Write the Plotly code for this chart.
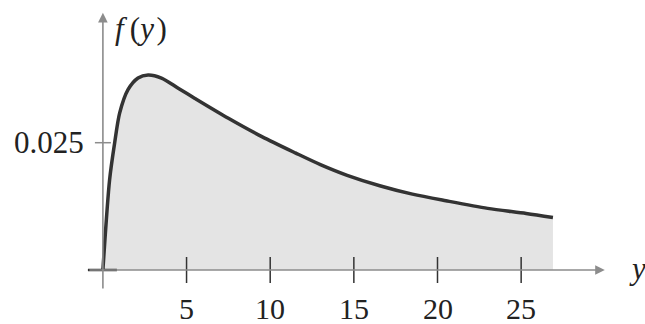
import plotly.graph_objects as go

# Density curve f(y), read at points along the curve
y_vals = [0, 0.4, 0.7, 1.0, 1.5, 2.1, 2.7, 3.5, 4.5, 5.5, 7.5, 9.5, 11.5,
          13.0, 14.6, 16.6, 18.5, 20.5, 23.0, 25.3, 26.9]
f_vals = [0, 0.0177, 0.0249, 0.0308, 0.0354, 0.0377, 0.0383, 0.0377, 0.0357,
          0.0337, 0.0298, 0.0262, 0.0230, 0.0207, 0.0186, 0.0165,
          0.0149, 0.0136, 0.0121, 0.0111, 0.0103]

x_ticks = [5, 10, 15, 20, 25]
x_tick_labels = ["5", "10", "15", "20", "25"]
y_ticks = [0.025]
y_tick_labels = ["0.025"]

AXIS_GRAY = "#8c8c8c"
CURVE = "#333333"
SERIF = "Liberation Serif"
FONT = dict(family=SERIF, size=31, color="#222222")
TICK_FONT = dict(family=SERIF, size=30, color="#222222")

# pixel scale helpers (16.73 px per x unit, 5092 px per f unit)
PX_X = 16.73
PX_Y = 5092.0

fig = go.Figure()

fig.add_trace(go.Scatter(
    x=y_vals, y=f_vals, mode="lines",
    line=dict(color=CURVE, width=3.5, shape="spline", smoothing=0.8),
    fill="tozeroy", fillcolor="#e4e4e4",
    hoverinfo="skip", showlegend=False,
))

shapes = []
# x-axis ticks crossing the axis
for t in x_ticks:
    shapes.append(dict(type="line", xref="x", yref="y",
                       x0=t, x1=t, y0=-13 / PX_Y, y1=13 / PX_Y,
                       line=dict(color=CURVE, width=1.5)))
# y-axis tick
for t in y_ticks:
    shapes.append(dict(type="line", xref="x", yref="y",
                       x0=-8 / PX_X, x1=8 / PX_X, y0=t, y1=t,
                       line=dict(color=AXIS_GRAY, width=1.5)))
# dark baseline mark at the origin
shapes.append(dict(type="line", xref="x", yref="y",
                   x0=-15 / PX_X, x1=14 / PX_X, y0=0, y1=0,
                   line=dict(color=CURVE, width=2.5)))

annotations = []
# x axis with arrow
annotations.append(dict(x=30.0, y=0, ax=-15 / PX_X, ay=0, xref="x", yref="y",
                        axref="x", ayref="y", showarrow=True, arrowhead=2,
                        arrowsize=1.2, arrowwidth=1.6, arrowcolor=AXIS_GRAY, text=""))
# y axis with arrow
annotations.append(dict(x=0, y=0.0505, ax=0, ay=-20 / PX_Y, xref="x", yref="y",
                        axref="x", ayref="y", showarrow=True, arrowhead=2,
                        arrowsize=1.2, arrowwidth=1.6, arrowcolor=AXIS_GRAY, text=""))

for t, lab in zip(x_ticks, x_tick_labels):
    annotations.append(dict(x=t, y=0, xref="x", yref="y", text=lab,
                            showarrow=False, xanchor="center", yanchor="top",
                            yshift=-20, font=TICK_FONT))
for t, lab in zip(y_ticks, y_tick_labels):
    annotations.append(dict(x=0, y=t, xref="x", yref="y", text=lab,
                            showarrow=False, xanchor="right", yanchor="middle",
                            xshift=-17, font=FONT))

annotations.append(dict(x=0, y=0.0505, xref="x", yref="y",
                        text="<i>f</i>\u2009(<i>y</i>\u200a)", showarrow=False,
                        xanchor="left", yanchor="top", xshift=10, yshift=4,
                        font=FONT))
annotations.append(dict(x=30.0, y=0, xref="x", yref="y", text="<i>y</i>",
                        showarrow=False, xanchor="left", yanchor="middle",
                        xshift=22, yshift=2, font=FONT))

fig.update_layout(
    width=645, height=324,
    margin=dict(l=0, r=0, t=0, b=0),
    paper_bgcolor="white", plot_bgcolor="white",
    font=dict(family=SERIF),
    xaxis=dict(range=[-102.9 / PX_X, (645 - 102.9) / PX_X], visible=False, fixedrange=True),
    yaxis=dict(range=[-(324 - 270) / PX_Y, 270 / PX_Y], visible=False, fixedrange=True),
    shapes=shapes, annotations=annotations,
)

fig.write_html("out.html")
